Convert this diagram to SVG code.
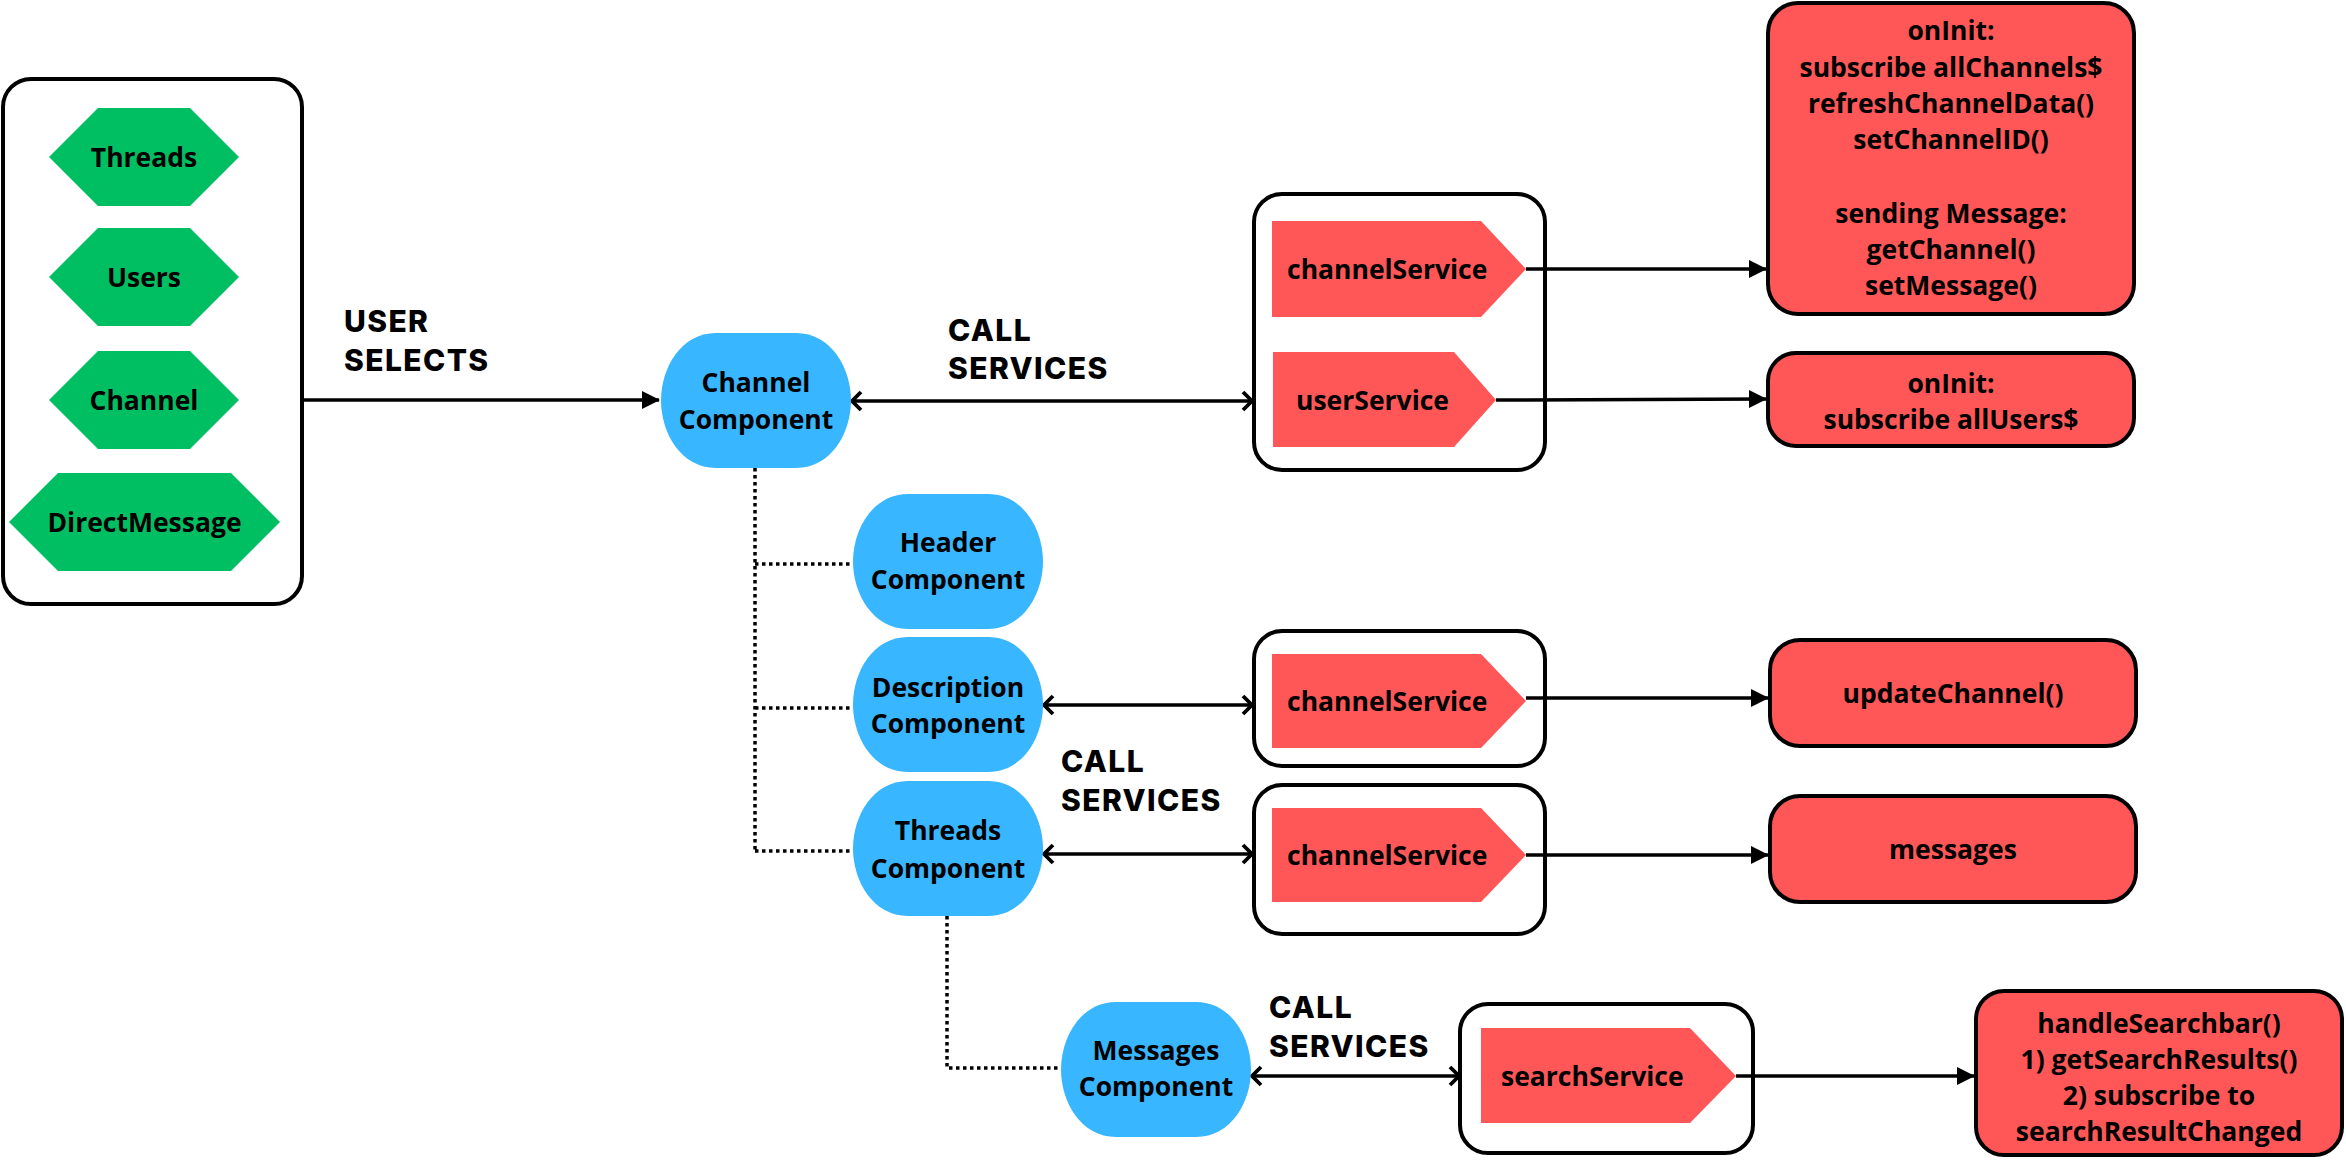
<svg xmlns="http://www.w3.org/2000/svg" xmlns:xlink="http://www.w3.org/1999/xlink" width="2346" height="1160" viewBox="0 0 2346 1160">
<style>
.hex{fill:#00BF63}
.comp{fill:#38B6FF}
.pent{fill:#FF5757}
.red{fill:#FF5757;stroke:#000;stroke-width:4}
.frame{fill:#fff;stroke:#000;stroke-width:4}
.t{font-family:"Open Sans","Liberation Sans",sans-serif;font-weight:700;font-size:26.5px;fill:#000}
.c{text-anchor:middle}
.h{font-family:Inter,"Liberation Sans",sans-serif;font-weight:800;font-size:30px;letter-spacing:1.4px;fill:#000}
.ln{stroke:#000;stroke-width:3.5;fill:none}
.dot{stroke:#000;stroke-width:3.5;fill:none;stroke-dasharray:3.5 3.5}
</style>
<defs>
<marker id="tri" markerUnits="userSpaceOnUse" markerWidth="18" markerHeight="20" refX="17" refY="10" orient="auto"><path d="M0,1 L18,10 L0,19 Z" fill="#000"/></marker>
<marker id="chev" markerUnits="userSpaceOnUse" markerWidth="14" markerHeight="22" refX="11" refY="11" orient="auto-start-reverse"><path d="M2,2 L11,11 L2,20" fill="none" stroke="#000" stroke-width="3.8"/></marker>
<path id="blob" d="M55,0 H135 C170,0 190,35 190,67.5 C190,100 170,135 135,135 H55 C20,135 0,100 0,67.5 C0,35 20,0 55,0 Z"/>
</defs>

<g id="connectors">
<line class="ln" x1="239" y1="400" x2="659" y2="400" marker-end="url(#tri)"/>
<line class="ln" x1="852" y1="401" x2="1252" y2="401" marker-start="url(#chev)" marker-end="url(#chev)"/>
<line class="ln" x1="1044" y1="705" x2="1252" y2="705" marker-start="url(#chev)" marker-end="url(#chev)"/>
<line class="ln" x1="1044" y1="854" x2="1252" y2="854" marker-start="url(#chev)" marker-end="url(#chev)"/>
<line class="ln" x1="1252" y1="1076" x2="1459" y2="1076" marker-start="url(#chev)" marker-end="url(#chev)"/>
<path class="dot" d="M755,468 V851 M755,564 H853 M755,708 H853 M755,851 H853 M947,916 V1068 H1061"/>
</g>

<g id="sources">
<rect class="frame" x="3" y="79" width="299" height="525" rx="28"/>
<g id="threads"><polygon class="hex" points="49,157 98,108 190,108 239,157 190,206 98,206"/><text class="t c" x="144" y="166.5">Threads</text></g>
<g id="users"><polygon class="hex" points="49,277 98,228 190,228 239,277 190,326 98,326"/><text class="t c" x="144" y="286.5">Users</text></g>
<g id="channel"><polygon class="hex" points="49,400 98,351 190,351 239,400 190,449 98,449"/><text class="t c" x="144" y="409.5">Channel</text></g>
<g id="directmessage"><polygon class="hex" points="9,522 58,473 231,473 280,522 231,571 58,571"/><text class="t c" x="144.5" y="531.5">DirectMessage</text></g>
</g>

<g id="label-user-selects"><text class="h" x="344" y="332">USER</text><text class="h" x="344" y="371">SELECTS</text></g>
<g id="label-call-1"><text class="h" x="948" y="341">CALL</text><text class="h" x="948" y="379">SERVICES</text></g>
<g id="label-call-2"><text class="h" x="1061" y="772">CALL</text><text class="h" x="1061" y="811">SERVICES</text></g>
<g id="label-call-3"><text class="h" x="1269" y="1018">CALL</text><text class="h" x="1269" y="1057">SERVICES</text></g>

<g id="channel-component"><use href="#blob" class="comp" transform="translate(661,333)"/><text class="t c" x="756" y="391.5">Channel</text><text class="t c" x="756" y="428.5">Component</text></g>
<g id="header-component"><use href="#blob" class="comp" transform="translate(853,494)"/><text class="t c" x="948" y="551.5">Header</text><text class="t c" x="948" y="588.5">Component</text></g>
<g id="description-component"><use href="#blob" class="comp" transform="translate(853,637)"/><text class="t c" x="948" y="696.5">Description</text><text class="t c" x="948" y="732.5">Component</text></g>
<g id="threads-component"><use href="#blob" class="comp" transform="translate(853,781)"/><text class="t c" x="948" y="839.5">Threads</text><text class="t c" x="948" y="877.5">Component</text></g>
<g id="messages-component"><use href="#blob" class="comp" transform="translate(1061,1002)"/><text class="t c" x="1156" y="1059.5">Messages</text><text class="t c" x="1156" y="1095.5">Component</text></g>

<g id="services-1">
<rect class="frame" x="1254" y="194" width="291" height="276" rx="28"/>
<g id="channelService-1"><polygon class="pent" points="1272,221 1481,221 1526,269 1481,317 1272,317"/><text class="t" x="1287" y="278.5">channelService</text></g>
<g id="userService"><polygon class="pent" points="1273,352 1454,352 1496,400 1454,447 1273,447"/><text class="t" x="1296" y="409.5">userService</text></g>
</g>
<g id="services-2">
<rect class="frame" x="1254" y="631" width="291" height="135" rx="28"/>
<polygon class="pent" points="1272,654 1481,654 1526,701 1481,748 1272,748"/><text class="t" x="1287" y="710.5">channelService</text>
</g>
<g id="services-3">
<rect class="frame" x="1254" y="785" width="291" height="149" rx="28"/>
<polygon class="pent" points="1272,808 1481,808 1526,855 1481,902 1272,902"/><text class="t" x="1287" y="864.5">channelService</text>
</g>
<g id="services-4">
<rect class="frame" x="1460" y="1004" width="293" height="149" rx="28"/>
<polygon class="pent" points="1481,1028 1690,1028 1736,1076 1690,1123 1481,1123"/><text class="t" x="1501" y="1085.5">searchService</text>
</g>

<g id="connectors-out">
<line class="ln" x1="1526" y1="269" x2="1766" y2="269" marker-end="url(#tri)"/>
<line class="ln" x1="1496" y1="400" x2="1766" y2="399" marker-end="url(#tri)"/>
<line class="ln" x1="1526" y1="698" x2="1768" y2="698" marker-end="url(#tri)"/>
<line class="ln" x1="1526" y1="855" x2="1768" y2="855" marker-end="url(#tri)"/>
<line class="ln" x1="1736" y1="1076" x2="1974" y2="1076" marker-end="url(#tri)"/>
</g>

<g id="result-channel">
<rect class="red" x="1768" y="3" width="366" height="311" rx="30"/>
<text class="t c" x="1951" y="39.5">onInit:</text>
<text class="t c" x="1951" y="76.5">subscribe allChannels$</text>
<text class="t c" x="1951" y="112.5">refreshChannelData()</text>
<text class="t c" x="1951" y="148.5">setChannelID()</text>
<text class="t c" x="1951" y="222.5">sending Message:</text>
<text class="t c" x="1951" y="258.5">getChannel()</text>
<text class="t c" x="1951" y="294.5">setMessage()</text>
</g>
<g id="result-user">
<rect class="red" x="1768" y="353" width="366" height="93" rx="28"/>
<text class="t c" x="1951" y="392.5">onInit:</text>
<text class="t c" x="1951" y="428.5">subscribe allUsers$</text>
</g>
<g id="result-update">
<rect class="red" x="1770" y="640" width="366" height="106" rx="30"/>
<text class="t c" x="1953" y="702.5">updateChannel()</text>
</g>
<g id="result-messages">
<rect class="red" x="1770" y="796" width="366" height="106" rx="30"/>
<text class="t c" x="1953" y="858.5">messages</text>
</g>
<g id="result-search">
<rect class="red" x="1976" y="991" width="366" height="164" rx="28"/>
<text class="t c" x="2159" y="1032.5">handleSearchbar()</text>
<text class="t c" x="2159" y="1068.5">1) getSearchResults()</text>
<text class="t c" x="2159" y="1104.5">2) subscribe to</text>
<text class="t c" x="2159" y="1140.5">searchResultChanged</text>
</g>
</svg>
